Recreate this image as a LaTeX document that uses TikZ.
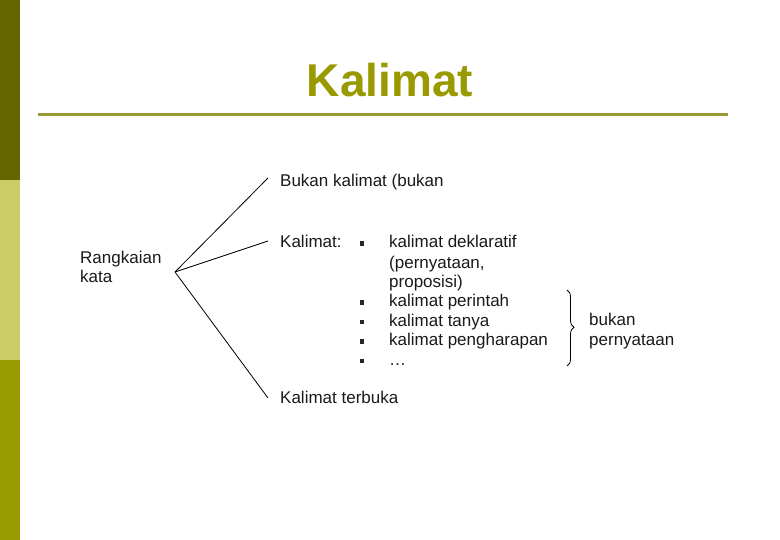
\documentclass[tikz,border=0pt]{standalone}
\usepackage{fontspec}
\setmainfont{Liberation Sans}
\usetikzlibrary{decorations.pathreplacing}
\definecolor{sidedark}{HTML}{666600}
\definecolor{sidelight}{HTML}{CCCC66}
\definecolor{sidemid}{HTML}{999900}
\definecolor{titlecol}{HTML}{999900}
\definecolor{rulecol}{HTML}{999933}
\definecolor{txt}{HTML}{1A1A1A}
\begin{document}
\begin{tikzpicture}[x=1pt,y=-1pt,
  lbl/.style={anchor=base west,inner sep=0pt,text=txt,font=\fontsize{17}{19.5}\selectfont},
  conn/.style={draw=black,line width=0.8pt},
  bul/.style={fill=black!85,draw=none,minimum size=4.5pt,inner sep=0pt}]
\useasboundingbox (0,0) rectangle (780,540);
\fill[white] (0,0) rectangle (780,540);
% sidebar
\fill[sidedark] (0,0) rectangle (20,180);
\fill[sidelight] (0,180) rectangle (20,360);
\fill[sidemid] (0,360) rectangle (20,540);
% title
\node[anchor=base,inner sep=0pt,text=titlecol,font=\fontsize{46}{50}\bfseries\selectfont] (title) at (390,97) {Kalimat};
\coordinate (r1) at (38,115);
\coordinate (r2) at (728,115);
\draw[rulecol,line width=3pt] (r1) -- (r2);
% root
\node[lbl] (rk1) at (80,264) {Rangkaian};
\node[lbl] (rk2) at (80,283) {kata};
\coordinate (hub) at (175,272);
\coordinate (e1) at (268,178);
\coordinate (e2) at (268,241);
\coordinate (e3) at (268,398);
\draw[conn] (hub) -- (e1);
\draw[conn] (hub) -- (e2);
\draw[conn] (hub) -- (e3);
% branches
\node[lbl] (bk) at (280,187) {Bukan kalimat (bukan};
\node[lbl] (km) at (280,248) {Kalimat:};
\node[lbl] (kt) at (280,403) {Kalimat terbuka};
% list
\node[lbl] (i1) at (389,248) {kalimat deklaratif};
\node[lbl] (i1b) at (389,268.5) {(pernyataan,};
\node[lbl] (i1c) at (389,288) {proposisi)};
\node[lbl] (i2) at (389,307) {kalimat perintah};
\node[lbl] (i3) at (389,326.5) {kalimat tanya};
\node[lbl] (i4) at (389,346) {kalimat pengharapan};
\node[lbl] (i5) at (389,365.5) {\ldots};
\node[bul] (b1) at (362,243.5) {};
\node[bul] (b2) at (362,302.5) {};
\node[bul] (b3) at (362,322) {};
\node[bul] (b4) at (362,341.5) {};
\node[bul] (b5) at (362,361) {};
% brace
\coordinate (bt) at (567,290);
\coordinate (bb) at (567,366);
\draw[black,line width=0.8pt,decorate,decoration={brace,amplitude=7pt,aspect=0.49}] (bt) -- (bb);
\node[lbl] (bp1) at (589,326) {bukan};
\node[lbl] (bp2) at (589,346) {pernyataan};
\end{tikzpicture}
\end{document}
